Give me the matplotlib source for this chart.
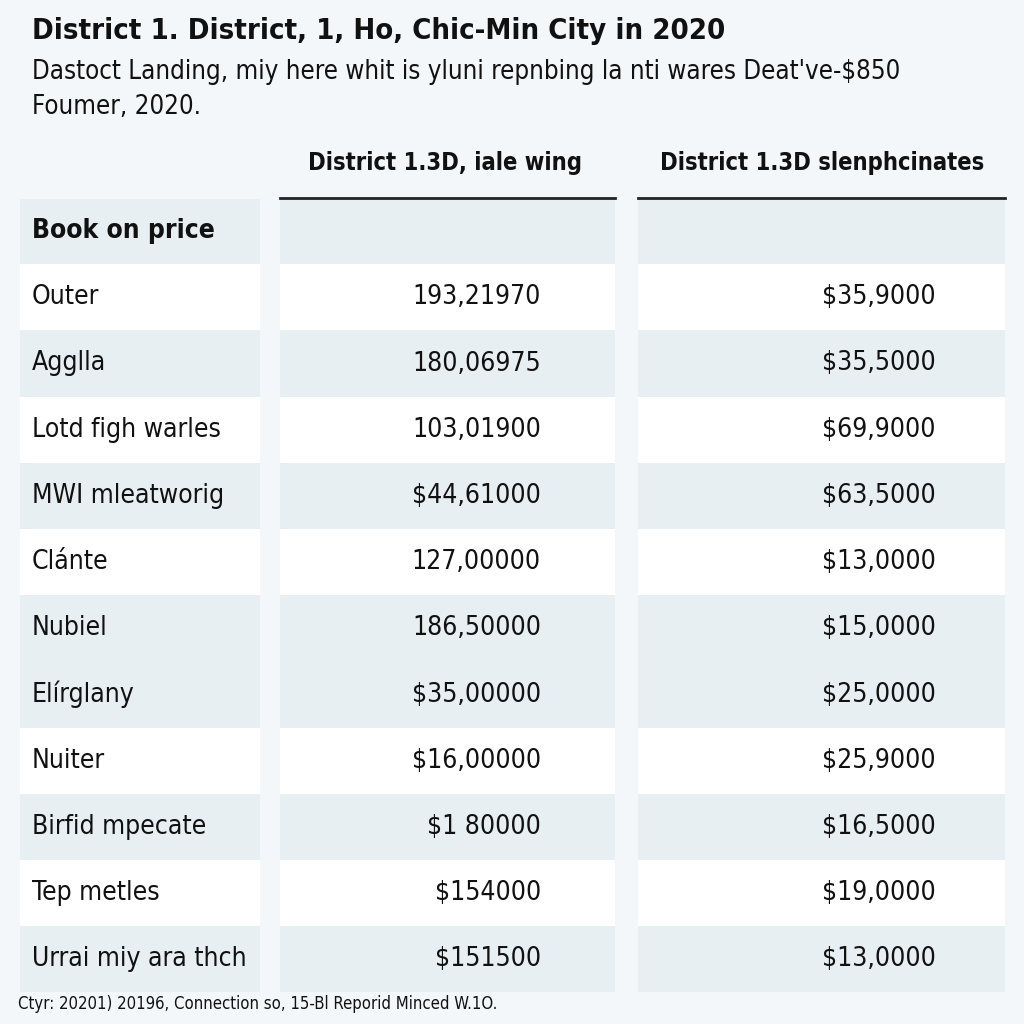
import matplotlib.pyplot as plt
from matplotlib.patches import Rectangle

title = "District 1. District, 1, Ho, Chic-Min City in 2020"
subtitle = ["Dastoct Landing, miy here whit is yluni repnbing la nti wares Deat've-$850",
            "Foumer, 2020."]
col_headers = ["District 1.3D, iale wing", "District 1.3D slenphcinates"]
row_header = "Book on price"
row_labels = ["Outer", "Agglla", "Lotd figh warles", "MWI mleatworig", "Clánte",
              "Nubiel", "Elírglany", "Nuiter", "Birfid mpecate", "Tep metles",
              "Urrai miy ara thch"]
col1 = ["193,21970", "180,06975", "103,01900", "$44,61000", "127,00000",
        "186,50000", "$35,00000", "$16,00000", "$1 80000", "$154000", "$151500"]
col2 = ["$35,9000", "$35,5000", "$69,9000", "$63,5000", "$13,0000",
        "$15,0000", "$25,0000", "$25,9000", "$16,5000", "$19,0000", "$13,0000"]
shaded = [False, True, False, True, False, True, True, False, True, False, True]
footer = "Ctyr: 20201) 20196, Connection so, 15-Bl Reporid Minced W.1O."

FAM = 'DejaVu Sans'
ST = 'condensed'
bg = '#f3f7f9'
shade = '#e8eff2'
ink = '#111111'

fig = plt.figure(figsize=(10.24, 10.24), dpi=100, facecolor=bg)
ax = fig.add_axes([0, 0, 1, 1])
ax.set_xlim(0, 1024)
ax.set_ylim(1024, 0)
ax.axis('off')

ax.text(32, 31, title, fontsize=21, fontweight='bold', family=FAM, stretch=ST,
        va='center', ha='left', color=ink)
ax.text(32, 72, subtitle[0], fontsize=18.5, family=FAM, stretch=ST, va='center', ha='left', color=ink)
ax.text(32, 107, subtitle[1], fontsize=18.5, family=FAM, stretch=ST, va='center', ha='left', color=ink)

cols = [(20, 260), (280, 615), (638, 1005)]
row_h = 66.2
top = 198

# column titles + rule under them
ax.text(445, 163, col_headers[0], fontsize=17, fontweight='bold', family=FAM, stretch=ST,
        ha='center', va='center', color=ink)
ax.text(822, 163, col_headers[1], fontsize=17, fontweight='bold', family=FAM, stretch=ST,
        ha='center', va='center', color=ink)
for x0, x1 in cols[1:]:
    ax.plot([x0, x1], [198, 198], color='#222222', lw=2)

# header row
for x0, x1 in cols:
    ax.add_patch(Rectangle((x0, top + 1), x1 - x0, row_h - 1, facecolor=shade, edgecolor='none'))
ax.text(32, top + row_h / 2, row_header, fontsize=19, fontweight='bold', family=FAM, stretch=ST,
        va='center', ha='left', color=ink)

for i, (lab, v1, v2) in enumerate(zip(row_labels, col1, col2)):
    y0 = top + row_h * (i + 1)
    fc = shade if shaded[i] else 'white'
    for x0, x1 in cols:
        ax.add_patch(Rectangle((x0, y0), x1 - x0, row_h, facecolor=fc, edgecolor='none'))
    yc = y0 + row_h / 2
    ax.text(32, yc, lab, fontsize=19, family=FAM, stretch=ST, va='center', ha='left', color=ink)
    ax.text(541, yc, v1, fontsize=19, family=FAM, stretch=ST, va='center', ha='right', color=ink)
    ax.text(936, yc, v2, fontsize=19, family=FAM, stretch=ST, va='center', ha='right', color=ink)

ax.text(18, 1004, footer, fontsize=12, family=FAM, stretch=ST, va='center', ha='left', color=ink)

fig.savefig('out.png', dpi=100, facecolor=bg)
